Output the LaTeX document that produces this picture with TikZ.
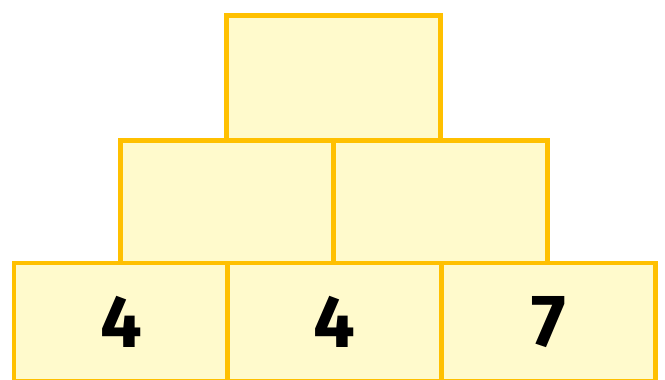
\documentclass[tikz,border=0pt]{standalone}
\usepackage{fontspec}
\setmainfont{Fira Sans}
\definecolor{boxfill}{RGB}{255,250,204}
\definecolor{boxline}{RGB}{255,192,0}
\begin{document}
\begin{tikzpicture}[x=1pt,y=-1pt,
  cell/.style={draw=boxline,fill=boxfill,line width=4.2pt,rectangle,inner sep=0pt,
    minimum width=214pt,font=\fontsize{74}{74}\selectfont\bfseries,text=black}]
\useasboundingbox (0,0) rectangle (665,380);
\node[cell,minimum height=125pt] (t) at (333.5,78) {};
\node[cell,minimum height=122.5pt] (m1) at (227.5,201.75) {};
\node[cell,minimum height=122.5pt] (m2) at (440.5,201.75) {};
\node[cell,minimum height=118pt] (b1) at (121,322) {4};
\node[cell,minimum height=118pt] (b2) at (334.5,322) {4};
\node[cell,minimum height=118pt] (b3) at (548.5,322) {7};
\end{tikzpicture}
\end{document}
